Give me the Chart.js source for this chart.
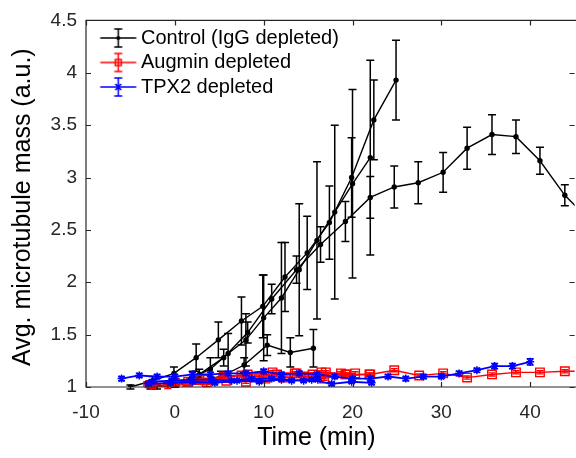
<!DOCTYPE html>
<html>
<head>
<meta charset="utf-8">
<script src="https://cdn.jsdelivr.net/npm/chart.js@4"></script>
<style>
  html, body { margin: 0; padding: 0; background: #fff; overflow: hidden; }
  #wrap { width: 582px; height: 458px; }
</style>
</head>
<body>
<div id="wrap"><canvas id="myChart" width="582" height="458"></canvas></div>
<script>
// ticks
const xTicks = [-10, 0, 10, 20, 30, 40];
const yTicks = [1, 1.5, 2, 2.5, 3, 3.5, 4, 4.5];

// control (IgG depleted), four runs
const ctrlAX = [-2.75, 0, 2.75, 5.5, 8.2, 10.9, 13.7, 16.4, 19.2, 22.0, 24.7, 27.4, 30.2, 32.9, 35.7, 38.4, 41.1, 43.9, 46.6];
const ctrlAY = [1.0, 1.03, 1.12, 1.28, 1.52, 1.84, 2.12, 2.36, 2.58, 2.81, 2.91, 2.95, 3.05, 3.28, 3.41, 3.39, 3.16, 2.83, 2.6];
const ctrlAE = [0.02, 0.03, 0.05, 0.08, 0.1, 0.14, 0.13, 0.17, 0.19, 0.2, 0.2, 0.2, 0.19, 0.2, 0.19, 0.16, 0.13, 0.1, 0.1];

const ctrlBX = [-5, -2.5, -0.1, 2.4, 4.9, 7.5, 9.9, 12.4, 14.9, 17.4, 19.9, 22.4, 24.9];
const ctrlBY = [1.0, 1.06, 1.13, 1.28, 1.45, 1.63, 1.77, 2.05, 2.28, 2.57, 3.0, 3.55, 3.93];
const ctrlBE = [0.02, 0.04, 0.06, 0.13, 0.17, 0.23, 0.3, 0.33, 0.35, 0.35, 0.38, 0.38, 0.38];

const ctrlCX = [-2, 0, 2, 4, 6, 8, 10, 12, 14, 16, 18, 20, 22];
const ctrlCY = [1.0, 1.04, 1.09, 1.17, 1.32, 1.45, 1.66, 1.85, 2.12, 2.40, 2.67, 2.94, 3.19];
const ctrlCE = [0.02, 0.04, 0.06, 0.11, 0.19, 0.25, 0.41, 0.53, 0.63, 0.75, 0.83, 0.9, 0.93];

const ctrlDX = [-2.6, 0, 2.6, 5.2, 7.8, 10.4, 13.0, 15.6];
const ctrlDY = [1.0, 1.02, 1.06, 1.1, 1.21, 1.40, 1.33, 1.37];
const ctrlDE = [0.01, 0.02, 0.03, 0.05, 0.07, 0.1, 0.14, 0.18];

// augmin depleted
const augAX = [-2.75, 0, 2.75, 5.5, 8.2, 11, 13.7, 16.5, 19.2, 22, 24.7, 27.5, 30.2, 32.9, 35.7, 38.4, 41.1, 43.9, 46.6];
const augAY = [1.02, 1.04, 1.07, 1.10, 1.12, 1.14, 1.13, 1.14, 1.12, 1.12, 1.16, 1.11, 1.13, 1.09, 1.12, 1.14, 1.14, 1.15, 1.15];
const augBX = [-2.5, -0.5, 1.5, 3.5, 5.5, 7.5, 9.5, 11.5, 13.5, 15.5, 17.0, 18.7, 20.3];
const augBY = [1.0, 1.02, 1.05, 1.07, 1.09, 1.11, 1.1, 1.12, 1.13, 1.12, 1.14, 1.13, 1.13];
const augCX = [-3, -0.8, 1.4, 3.6, 5.8, 8, 10.2, 12.4, 14.6, 16.8, 19.3, 21.9];
const augCY = [1.01, 1.0, 1.03, 1.02, 1.06, 1.05, 1.08, 1.09, 1.1, 1.08, 1.12, 1.12];

// TPX2 depleted
const tpxAX = [-6, -4, -2, 0, 2, 4, 6, 8, 10, 12, 14, 16, 18, 20, 22, 24, 26, 28, 30, 32, 34, 36, 38, 40];
const tpxAY = [1.08, 1.11, 1.10, 1.10, 1.12, 1.12, 1.13, 1.13, 1.15, 1.12, 1.13, 1.12, 1.10, 1.08, 1.08, 1.10, 1.08, 1.10, 1.10, 1.13, 1.16, 1.20, 1.20, 1.24];
const tpxAE = [0.02, 0.02, 0.02, 0.02, 0.02, 0.02, 0.02, 0.02, 0.02, 0.02, 0.02, 0.02, 0.02, 0.02, 0.02, 0.02, 0.02, 0.02, 0.02, 0.02, 0.02, 0.025, 0.025, 0.03];
const tpxBX = [-2.6, -0.35, 1.9, 4.15, 6.4, 8.65, 10.9, 13.15, 15.4, 17.65, 19.9, 22.15];
const tpxBY = [1.05, 1.06, 1.07, 1.07, 1.06, 1.08, 1.08, 1.06, 1.07, 1.03, 1.05, 1.04];
const tpxCX = [-3, -0.5, 2, 4.5, 7, 9.5, 12, 14.5, 16.1];
const tpxCY = [1.03, 1.04, 1.05, 1.04, 1.06, 1.05, 1.07, 1.06, 1.07];

const BLACK = "#000000", RED = "#ff0000", BLUE = "#0000ff", AXIS = "#262626";

function pts(xs, ys) { return xs.map((x, i) => ({ x: x, y: ys[i] })); }
function same(xs, e) { return xs.map(() => e); }

function ctrlSet(xs, ys, es) {
  return { data: pts(xs, ys), err: es, borderColor: BLACK, backgroundColor: BLACK, borderWidth: 1.4,
    pointStyle: "circle", pointRadius: 2.7, pointBorderWidth: 0, capW: 4, errW: 1.5 };
}
function augSet(xs, ys) {
  return { data: pts(xs, ys), err: same(xs, 0.015), borderColor: RED, backgroundColor: "rgba(0,0,0,0)", borderWidth: 1.4,
    pointStyle: "rect", pointRadius: 6, pointBorderWidth: 1.4, capW: 3.5, errW: 1.4 };
}
function tpxSet(xs, ys, es) {
  return { data: pts(xs, ys), err: es, borderColor: BLUE, backgroundColor: BLUE, borderWidth: 1.8,
    pointStyle: "star", pointRadius: 4, pointBorderWidth: 1.5, capW: 3.5, errW: 1.5 };
}

const datasets = [
  tpxSet(tpxAX, tpxAY, tpxAE),
  tpxSet(tpxBX, tpxBY, same(tpxBX, 0.015)),
  tpxSet(tpxCX, tpxCY, same(tpxCX, 0.015)),
  augSet(augAX, augAY),
  augSet(augBX, augBY),
  augSet(augCX, augCY),
  ctrlSet(ctrlAX, ctrlAY, ctrlAE),
  ctrlSet(ctrlBX, ctrlBY, ctrlBE),
  ctrlSet(ctrlCX, ctrlCY, ctrlCE),
  ctrlSet(ctrlDX, ctrlDY, ctrlDE),
];

// legend glyphs: line + error bar + marker (canvas is wider so the glyph sits right of centre)
function glyph(color, kind) {
  const c = document.createElement("canvas");
  c.width = 60; c.height = 22;
  const g = c.getContext("2d");
  const m = 37.5;
  g.strokeStyle = color; g.fillStyle = color; g.lineWidth = 1.5;
  g.beginPath(); g.moveTo(19.5, 11); g.lineTo(55.5, 11); g.stroke();
  g.beginPath(); g.moveTo(m, 2); g.lineTo(m, 20);
  g.moveTo(m - 4, 2); g.lineTo(m + 4, 2); g.moveTo(m - 4, 20); g.lineTo(m + 4, 20); g.stroke();
  if (kind === "circle") { g.beginPath(); g.arc(m, 11, 2, 0, Math.PI * 2); g.fill(); }
  if (kind === "rect") { g.strokeRect(m - 3, 8, 6, 6); }
  if (kind === "star") {
    g.beginPath();
    g.moveTo(m - 3, 8); g.lineTo(m + 3, 14); g.moveTo(m + 3, 8); g.lineTo(m - 3, 14);
    g.moveTo(m, 7.5); g.lineTo(m, 14.5); g.stroke();
  }
  return c;
}

const errorBars = {
  id: "errorBars",
  afterDatasetDraw(chart, args) {
    const ds = chart.data.datasets[args.index];
    const meta = args.meta;
    const y = chart.scales.y;
    const ctx = chart.ctx;
    ctx.save();
    ctx.strokeStyle = ds.borderColor;
    ctx.lineWidth = ds.errW;
    ds.data.forEach((d, i) => {
      const el = meta.data[i];
      if (!el || d.x > chart.scales.x.max + 1) return;
      const px = el.x;
      const t = y.getPixelForValue(d.y + ds.err[i]);
      const b = y.getPixelForValue(d.y - ds.err[i]);
      ctx.beginPath();
      ctx.moveTo(px, t); ctx.lineTo(px, b);
      ctx.moveTo(px - ds.capW, t); ctx.lineTo(px + ds.capW, t);
      ctx.moveTo(px - ds.capW, b); ctx.lineTo(px + ds.capW, b);
      ctx.stroke();
    });
    ctx.restore();
  },
};

const boxAxes = {
  id: "boxAxes",
  afterDraw(chart) {
    const { ctx, chartArea: a, scales } = chart;
    ctx.save();
    ctx.strokeStyle = AXIS;
    ctx.lineWidth = 1.2;
    ctx.beginPath();
    ctx.moveTo(a.right + 5, a.top); ctx.lineTo(a.left, a.top);
    ctx.lineTo(a.left, a.bottom); ctx.lineTo(a.right + 5, a.bottom);
    xTicks.forEach((v) => {
      const px = Math.round(scales.x.getPixelForValue(v)) + 0.5;
      ctx.moveTo(px, a.bottom); ctx.lineTo(px, a.bottom - 5);
      ctx.moveTo(px, a.top); ctx.lineTo(px, a.top + 5);
    });
    yTicks.forEach((v) => {
      const py = Math.round(scales.y.getPixelForValue(v)) + 0.5;
      ctx.moveTo(a.left, py); ctx.lineTo(a.left + 5, py);
      ctx.moveTo(a.right, py); ctx.lineTo(a.right - 5, py);
    });
    ctx.stroke();
    ctx.restore();
  },
};

const FONT = "'Liberation Sans', Arial, Helvetica, sans-serif";

new Chart(document.getElementById("myChart"), {
  type: "line",
  data: { datasets: datasets },
  plugins: [errorBars, boxAxes],
  options: {
    responsive: false,
    animation: false,
    layout: { padding: { top: 12, right: 3, left: 0, bottom: 0 } },
    elements: { line: { tension: 0 } },
    plugins: {
      tooltip: { enabled: false },
      legend: {
        position: "chartArea",
        align: "start",
        title: { display: true, text: " ", font: { size: 10 }, padding: { top: 6, bottom: 5.5 } },
        labels: {
          font: { family: FONT, size: 20 },
          color: "#000",
          usePointStyle: true,
          pointStyleWidth: 40.5,
          boxHeight: 20,
          padding: 4.5,
          generateLabels: () => [
            { text: "Control (IgG depleted)", fontColor: "#000", pointStyle: glyph(BLACK, "circle"), fillStyle: BLACK, strokeStyle: BLACK, lineWidth: 0, datasetIndex: 6 },
            { text: "Augmin depleted", fontColor: "#000", pointStyle: glyph(RED, "rect"), fillStyle: RED, strokeStyle: RED, lineWidth: 0, datasetIndex: 3 },
            { text: "TPX2 depleted", fontColor: "#000", pointStyle: glyph(BLUE, "star"), fillStyle: BLUE, strokeStyle: BLUE, lineWidth: 0, datasetIndex: 0 },
          ],
        },
      },
    },
    scales: {
      x: {
        type: "linear",
        min: -10,
        max: 45,
        afterBuildTicks: (s) => { s.ticks = xTicks.map((v) => ({ value: v })); },
        afterFit: (s) => { s.height = 71; },
        grid: { display: false, drawTicks: false },
        border: { display: false },
        ticks: { font: { family: FONT, size: 19 }, color: "#262626", padding: 14, maxRotation: 0, callback: (v) => String(v) },
        // trailing spaces nudge the centred title left, as in the reference
        title: { display: true, text: "Time (min)    ", font: { family: FONT, size: 25 }, color: "#000", padding: { top: 0, bottom: 5 } },
      },
      y: {
        type: "linear",
        min: 1,
        max: 4.5,
        afterBuildTicks: (s) => { s.ticks = yTicks.map((v) => ({ value: v })); },
        afterFit: (s) => { s.width = 86; },
        grid: { display: false, drawTicks: false },
        border: { display: false },
        ticks: { font: { family: FONT, size: 19 }, color: "#262626", padding: 9, callback: (v) => String(v) },
        title: { display: true, text: "Avg. microtubule mass (a.u.) ", font: { family: FONT, size: 25 }, color: "#000", padding: { top: 8, bottom: 0 } },
      },
    },
  },
});
</script>
</body>
</html>
